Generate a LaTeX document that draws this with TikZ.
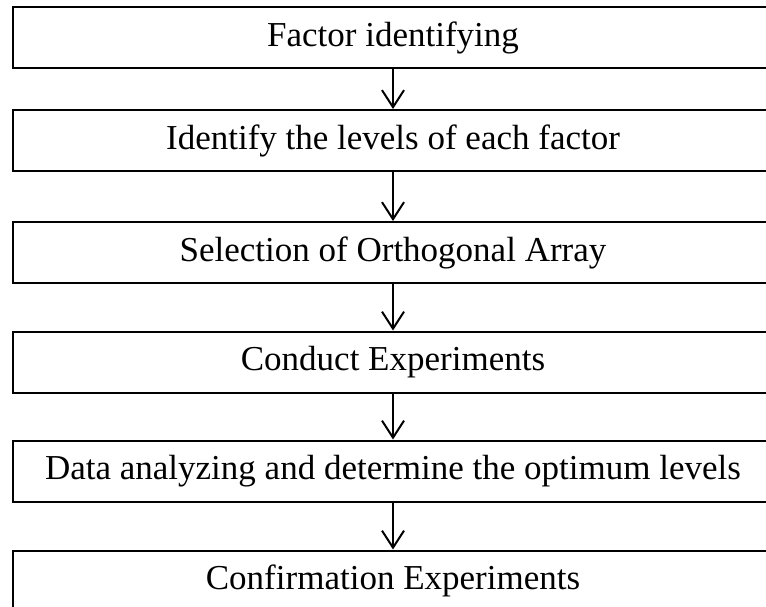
\documentclass[tikz,border=0pt]{standalone}
\usepackage{fontspec}
\setmainfont{Liberation Serif}
\usetikzlibrary{arrows.meta}
\begin{document}
\begin{tikzpicture}[x=1pt,y=-1pt,
  stepbox/.style={draw=black,line width=2pt,minimum width=760pt,minimum height=61pt,inner sep=0pt,
    font=\fontsize{35}{40}\selectfont},
  flowarrow/.style={line width=2pt,-{Straight Barb[length=17pt,width=22pt,line width=2pt]}}]
\useasboundingbox (0,0) rectangle (766,607);
\clip (0,0) rectangle (766,607);
\node[stepbox] (b1) at (393,37.5) {Factor identifying};
\node[stepbox] (b2) at (393,140.5) {Identify the levels of each factor};
\node[stepbox] (b3) at (393,252.5) {Selection of Orthogonal Array};
\node[stepbox] (b4) at (393,362) {Conduct Experiments};
\node[stepbox] (b5) at (393,471) {Data analyzing and determine the optimum levels};
\node[stepbox] (b6) at (393,581) {Confirmation Experiments};
\draw[flowarrow] (b1.south) -- (b2.north);
\draw[flowarrow] (b2.south) -- (b3.north);
\draw[flowarrow] (b3.south) -- (b4.north);
\draw[flowarrow] (b4.south) -- (b5.north);
\draw[flowarrow] (b5.south) -- (b6.north);
\end{tikzpicture}
\end{document}
